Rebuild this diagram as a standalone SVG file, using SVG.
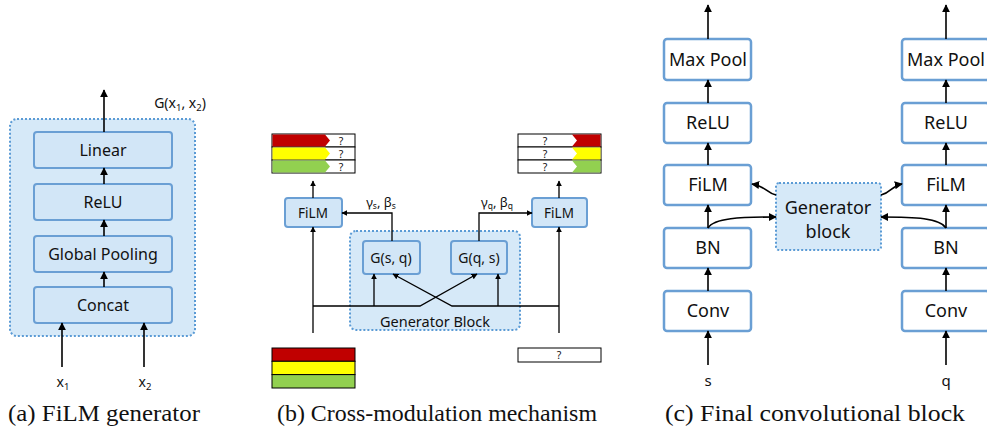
<svg xmlns="http://www.w3.org/2000/svg" width="987" height="429" viewBox="0 0 987 429">
<style>
.t{font-family:"Noto Sans","Open Sans",sans-serif;fill:#111;text-anchor:middle}
.cap{font-family:"Liberation Serif",serif;font-size:23px;fill:#111}
.bx{fill:#d2e6f7;stroke:#6a9fd4;stroke-width:2}
.wb{fill:#fff;stroke:#6a9fd4;stroke-width:2.5}
.grp{fill:#d6e9f8;stroke:#5b9bd5;stroke-width:2;stroke-dasharray:2 2}
.ln{fill:none;stroke:#000;stroke-width:1.6}
.lb{fill:none;stroke:#000;stroke-width:1.3}
.bar{stroke:#000;stroke-width:1}
</style>
<defs>
<marker id="ah" viewBox="0 0 10 10" refX="9" refY="5" markerWidth="8" markerHeight="8" markerUnits="userSpaceOnUse" orient="auto"><path d="M0,0 L10,5 L0,10 z" fill="#000"/></marker>
<marker id="as" viewBox="0 0 10 10" refX="9" refY="5" markerWidth="6" markerHeight="6" markerUnits="userSpaceOnUse" orient="auto"><path d="M0,0 L10,5 L0,10 z" fill="#000"/></marker>
</defs>

<!-- Panel (a) -->
<g id="a-generator"><rect class="grp" x="10" y="119" width="185" height="217" rx="7"/></g>
<g id="a-linear"><rect class="bx" x="34" y="132" width="138" height="36" rx="3"/><text class="t" x="103" y="156" font-size="16">Linear</text></g>
<g id="a-relu"><rect class="bx" x="34" y="184" width="138" height="36" rx="3"/><text class="t" x="103" y="208" font-size="16">ReLU</text></g>
<g id="a-pool"><rect class="bx" x="34" y="236" width="138" height="36" rx="3"/><text class="t" x="103" y="260" font-size="16">Global Pooling</text></g>
<g id="a-concat"><rect class="bx" x="34" y="287" width="138" height="36" rx="3"/><text class="t" x="103" y="311" font-size="16">Concat</text></g>
<text class="t" x="180" y="108" font-size="14">G(x<tspan font-size="9.5" dy="3">1</tspan><tspan dy="-3">, x</tspan><tspan font-size="9.5" dy="3">2</tspan><tspan dy="-3">)</tspan></text>
<text class="t" x="63" y="387" font-size="14">x<tspan font-size="9.5" dy="3">1</tspan></text>
<text class="t" x="145" y="387" font-size="14">x<tspan font-size="9.5" dy="3">2</tspan></text>

<!-- Panel (b) -->
<g id="b-out-s">
<rect class="bar" x="272" y="134" width="83" height="13" fill="#fff"/>
<rect class="bar" x="272" y="147" width="83" height="13" fill="#fff"/>
<rect class="bar" x="272" y="160" width="83" height="13" fill="#fff"/>
<polygon points="272.5,134.5 325,134.5 330,140.5 325,146.5 272.5,146.5" fill="#c00000"/>
<polygon points="272.5,147.5 325,147.5 330,153.5 325,159.5 272.5,159.5" fill="#ffff00"/>
<polygon points="272.5,160.5 325,160.5 330,166.5 325,172.5 272.5,172.5" fill="#92d050"/>
<text class="t" x="341" y="145" font-size="10.5">?</text><text class="t" x="341" y="158" font-size="10.5">?</text><text class="t" x="341" y="171" font-size="10.5">?</text>
</g>
<g id="b-out-q">
<rect class="bar" x="518" y="134" width="83" height="13" fill="#fff"/>
<rect class="bar" x="518" y="147" width="83" height="13" fill="#fff"/>
<rect class="bar" x="518" y="160" width="83" height="13" fill="#fff"/>
<polygon points="572,134.5 600.5,134.5 600.5,146.5 572,146.5 577,140.5" fill="#c00000"/>
<polygon points="572,147.5 600.5,147.5 600.5,159.5 572,159.5 577,153.5" fill="#ffff00"/>
<polygon points="572,160.5 600.5,160.5 600.5,172.5 572,172.5 577,166.5" fill="#92d050"/>
<text class="t" x="545" y="145" font-size="10.5">?</text><text class="t" x="545" y="158" font-size="10.5">?</text><text class="t" x="545" y="171" font-size="10.5">?</text>
</g>
<g id="b-in-s">
<rect x="272" y="348" width="83" height="13.3" fill="#c00000" class="bar"/>
<rect x="272" y="361.3" width="83" height="13.3" fill="#ffff00" class="bar"/>
<rect x="272" y="374.6" width="83" height="13.4" fill="#92d050" class="bar"/>
</g>
<g id="b-in-q"><rect class="bar" x="518" y="348" width="83" height="14" fill="#fff"/><text class="t" x="559" y="359" font-size="10.5">?</text></g>
<g id="b-genblock"><rect class="grp" x="350" y="231" width="170" height="99" rx="6"/><text class="t" x="435" y="327" font-size="14.5">Generator Block</text></g>
<g id="b-film-s"><rect class="bx" x="285" y="198" width="57" height="29" rx="3"/><text class="t" x="313" y="217.5" font-size="13.5">FiLM</text></g>
<g id="b-film-q"><rect class="bx" x="532" y="198" width="55" height="29" rx="3"/><text class="t" x="559" y="217.5" font-size="13.5">FiLM</text></g>
<g id="b-gsq"><rect class="bx" x="363" y="241" width="57" height="33" rx="3"/><text class="t" x="391" y="262.5" font-size="14">G(s, q)</text></g>
<g id="b-gqs"><rect class="bx" x="451" y="241" width="56" height="33" rx="3"/><text class="t" x="479" y="262.5" font-size="14">G(q, s)</text></g>
<text class="t" x="381" y="207" font-size="13">γ<tspan font-size="8.5" dy="2">s</tspan><tspan dy="-2">, β</tspan><tspan font-size="8.5" dy="2">s</tspan></text>
<text class="t" x="497" y="207" font-size="13">γ<tspan font-size="8.5" dy="2">q</tspan><tspan dy="-2">, β</tspan><tspan font-size="8.5" dy="2">q</tspan></text>

<!-- Panel (c) -->
<g id="c-maxpool-s"><rect class="wb" x="664" y="39" width="87" height="41" rx="3"/><text class="t" x="708" y="66" font-size="18">Max Pool</text></g>
<g id="c-relu-s"><rect class="wb" x="664" y="103" width="87" height="40" rx="3"/><text class="t" x="708" y="129" font-size="18">ReLU</text></g>
<g id="c-film-s"><rect class="wb" x="664" y="165" width="87" height="40" rx="3"/><text class="t" x="708" y="191" font-size="18">FiLM</text></g>
<g id="c-bn-s"><rect class="wb" x="664" y="228" width="87" height="40" rx="3"/><text class="t" x="708" y="254" font-size="18">BN</text></g>
<g id="c-conv-s"><rect class="wb" x="664" y="291" width="87" height="40" rx="3"/><text class="t" x="708" y="317" font-size="18">Conv</text></g>
<g id="c-maxpool-q"><rect class="wb" x="902" y="39" width="87" height="41" rx="3"/><text class="t" x="946" y="66" font-size="18">Max Pool</text></g>
<g id="c-relu-q"><rect class="wb" x="902" y="103" width="87" height="40" rx="3"/><text class="t" x="946" y="129" font-size="18">ReLU</text></g>
<g id="c-film-q"><rect class="wb" x="902" y="165" width="87" height="40" rx="3"/><text class="t" x="946" y="191" font-size="18">FiLM</text></g>
<g id="c-bn-q"><rect class="wb" x="902" y="228" width="87" height="40" rx="3"/><text class="t" x="946" y="254" font-size="18">BN</text></g>
<g id="c-conv-q"><rect class="wb" x="902" y="291" width="87" height="40" rx="3"/><text class="t" x="946" y="317" font-size="18">Conv</text></g>
<g id="c-genblock"><rect class="grp" x="776" y="183" width="105" height="67" rx="3"/><text class="t" x="828" y="214" font-size="18">Generator</text><text class="t" x="828" y="238" font-size="18">block</text></g>
<text class="t" x="708" y="386" font-size="15">s</text>
<text class="t" x="946" y="386" font-size="15">q</text>

<!-- Connectors -->
<g id="connectors">
<path class="ln" d="M104,132 V90" marker-end="url(#ah)"/>
<path class="ln" d="M104,184 V168" marker-end="url(#ah)"/>
<path class="ln" d="M104,236 V220" marker-end="url(#ah)"/>
<path class="ln" d="M104,287 V272" marker-end="url(#ah)"/>
<path class="ln" d="M62,367 V323" marker-end="url(#ah)"/>
<path class="ln" d="M144,367 V323" marker-end="url(#ah)"/>

<path class="lb" d="M313,333 V227" marker-end="url(#as)"/>
<path class="lb" d="M559,333 V227" marker-end="url(#as)"/>
<path class="lb" d="M313,198 V181" marker-end="url(#as)"/>
<path class="lb" d="M559,198 V181" marker-end="url(#as)"/>
<path class="lb" d="M313,306 H420 L477,274" marker-end="url(#as)"/>
<path class="lb" d="M374,306 V274" marker-end="url(#as)"/>
<path class="lb" d="M559,306 H452 L393,274" marker-end="url(#as)"/>
<path class="lb" d="M498,306 V274" marker-end="url(#as)"/>
<path class="lb" d="M392,241 V213 H342" marker-end="url(#as)"/>
<path class="lb" d="M479,241 V213 H532" marker-end="url(#as)"/>

<path class="ln" d="M708,39 V5" marker-end="url(#ah)"/>
<path class="ln" d="M708,103 V80" marker-end="url(#ah)"/>
<path class="ln" d="M708,165 V143" marker-end="url(#ah)"/>
<path class="ln" d="M708,228 V205" marker-end="url(#ah)"/>
<path class="ln" d="M708,291 V268" marker-end="url(#ah)"/>
<path class="ln" d="M708,365 V331" marker-end="url(#ah)"/>
<path class="ln" d="M946,39 V5" marker-end="url(#ah)"/>
<path class="ln" d="M946,103 V80" marker-end="url(#ah)"/>
<path class="ln" d="M946,165 V143" marker-end="url(#ah)"/>
<path class="ln" d="M946,228 V205" marker-end="url(#ah)"/>
<path class="ln" d="M946,291 V268" marker-end="url(#ah)"/>
<path class="ln" d="M946,365 V331" marker-end="url(#ah)"/>
<path class="ln" d="M708,228 C714,218 740,217 776,217" marker-end="url(#ah)"/>
<path class="ln" d="M946,228 C940,218 915,217 881,217" marker-end="url(#ah)"/>
<path class="ln" d="M776,195 C766,193 766,186 752,184" marker-end="url(#ah)"/>
<path class="ln" d="M881,195 C891,193 891,186 902,184" marker-end="url(#ah)"/>
</g>

<!-- Captions -->
<text class="cap" x="8" y="421" textLength="192" lengthAdjust="spacingAndGlyphs">(a) FiLM generator</text>
<text class="cap" x="277" y="421" textLength="320" lengthAdjust="spacingAndGlyphs">(b) Cross-modulation mechanism</text>
<text class="cap" x="665" y="421" textLength="300" lengthAdjust="spacingAndGlyphs">(c) Final convolutional block</text>
</svg>
